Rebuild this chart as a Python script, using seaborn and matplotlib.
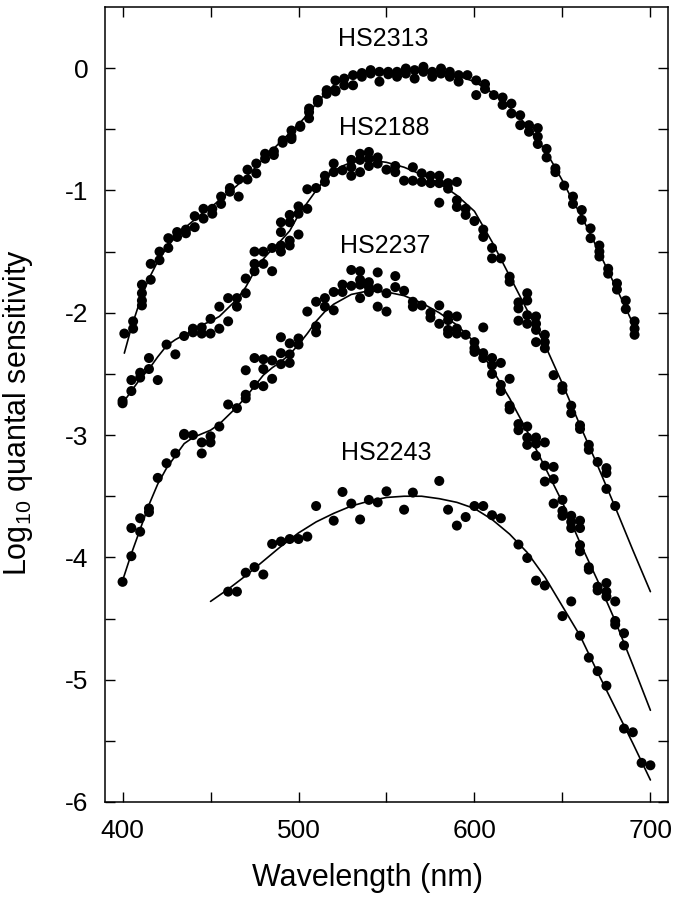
import matplotlib
matplotlib.use('Agg')
import matplotlib.pyplot as plt
import seaborn as sns
import pandas as pd

# Measured points, log10 quantal sensitivity vs wavelength (nm)
hs2313_wl = [401, 406, 406, 411, 411, 411, 411, 416, 416, 421, 421, 426, 426, 431, 431,
             436, 436, 441, 441, 446, 446, 451, 451, 456, 456, 461, 461, 466, 466, 471, 471,
             476, 476, 481, 481, 486, 486, 491, 491, 496, 496, 496, 501, 501, 506, 506, 506,
             511, 511, 516, 516, 521, 521, 521, 526, 526, 531, 531, 536, 536, 541, 541,
             546, 546, 551, 551, 556, 556, 561, 561, 566, 566, 571, 571, 576, 576, 581, 581,
             586, 586, 591, 591, 596, 601, 601, 606, 606, 611, 616, 616, 621, 621, 626, 626,
             631, 631, 636, 636, 636, 641, 641, 646, 646, 651, 656, 656, 661, 661, 666, 666,
             671, 671, 671, 676, 676, 681, 681, 686, 686, 691, 691, 691]
hs2313_val = [-2.17, -2.07, -2.13, -1.77, -1.84, -1.90, -1.94, -1.60, -1.73, -1.50, -1.57,
              -1.39, -1.47, -1.34, -1.38, -1.35, -1.32, -1.21, -1.30, -1.15, -1.23, -1.15, -1.19,
              -1.05, -1.11, -0.98, -1.01, -0.91, -1.05, -0.83, -0.91, -0.78, -0.86, -0.70, -0.74,
              -0.68, -0.71, -0.59, -0.61, -0.56, -0.51, -0.58, -0.47, -0.48, -0.36, -0.41, -0.33,
              -0.26, -0.28, -0.21, -0.18, -0.10, -0.19, -0.18, -0.085, -0.14, -0.057, -0.14,
              -0.07, -0.04, -0.016, -0.044, -0.03, -0.11, -0.03, -0.05, -0.03, -0.07, -0.003,
              -0.044, -0.016, -0.085, 0.011, -0.03, -0.03, -0.07, -0.003, -0.044, -0.03, -0.07,
              -0.057, -0.11, -0.057, -0.10, -0.22, -0.13, -0.17, -0.22, -0.24, -0.30, -0.29,
              -0.37, -0.385, -0.466, -0.466, -0.52, -0.49, -0.56, -0.62, -0.66, -0.73, -0.82,
              -0.85, -0.96, -1.05, -1.11, -1.16, -1.24, -1.31, -1.39, -1.45, -1.50, -1.54,
              -1.64, -1.68, -1.76, -1.81, -1.90, -1.97, -2.07, -2.13, -2.18]

hs2188_wl = [400, 400, 405, 405, 410, 410, 415, 415, 420, 425, 430, 435, 440, 440, 445, 445,
             450, 450, 455, 455, 460, 460, 465, 465, 470, 470, 475, 475, 475, 480, 480, 485, 485,
             490, 490, 490, 490, 495, 495, 495, 495, 500, 500, 500, 505, 505, 510, 515, 515,
             520, 520, 525, 530, 530, 530, 535, 535, 535, 540, 540, 540, 545, 545, 550, 555, 555,
             560, 565, 565, 570, 570, 575, 575, 580, 580, 580, 585, 585, 590, 590, 590, 595, 595,
             600, 605, 605, 610, 610, 615, 620, 620, 625, 625, 625, 630, 630, 630, 630,
             635, 635, 635, 635, 640, 640, 640, 645, 650, 650, 655, 655, 660, 660, 665, 665,
             670, 675, 675, 675, 680]
hs2188_val = [-2.72, -2.74, -2.64, -2.55, -2.53, -2.49, -2.46, -2.37, -2.55, -2.26, -2.34,
              -2.19, -2.13, -2.16, -2.12, -2.17, -2.05, -2.17, -1.95, -2.13, -1.88, -2.07, -1.88,
              -1.95, -1.72, -1.84, -1.50, -1.60, -1.66, -1.50, -1.60, -1.47, -1.66, -1.45, -1.50,
              -1.34, -1.26, -1.45, -1.41, -1.26, -1.20, -1.36, -1.13, -1.19, -1.15, -0.99, -0.98,
              -0.93, -0.88, -0.78, -0.85, -0.835, -0.75, -0.81, -0.88, -0.70, -0.75, -0.85,
              -0.685, -0.74, -0.80, -0.73, -0.78, -0.83, -0.80, -0.85, -0.92, -0.81, -0.92,
              -0.86, -0.93, -0.88, -0.94, -0.88, -0.94, -1.10, -0.94, -0.985, -0.93, -1.08,
              -1.135, -1.15, -1.20, -1.25, -1.32, -1.38, -1.47, -1.555, -1.555, -1.705, -1.746,
              -1.915, -1.964, -2.065, -1.84, -1.90, -2.02, -2.09, -2.03, -2.09, -2.14, -2.24,
              -2.18, -2.24, -2.29, -2.51, -2.60, -2.63, -2.76, -2.82, -2.92, -2.95, -3.08, -3.12,
              -3.22, -3.27, -3.31, -3.44, -3.58]

hs2237_wl = [400, 405, 405, 410, 410, 415, 415, 420, 425, 430, 435, 435, 440, 445, 445, 450,
             450, 455, 460, 465, 470, 470, 470, 475, 475, 480, 480, 480, 485, 485, 490, 490, 490,
             495, 495, 495, 500, 500, 505, 510, 510, 510, 515, 515, 520, 520, 525, 525, 530, 530,
             535, 535, 535, 535, 540, 540, 540, 545, 545, 545, 550, 550, 555, 555, 560, 565, 565,
             570, 575, 575, 580, 580, 585, 585, 585, 585, 590, 590, 590, 595, 600, 600, 600,
             605, 605, 605, 610, 610, 610, 615, 615, 615, 620, 620, 620, 625, 625, 630, 630, 630,
             635, 635, 635, 640, 640, 640, 645, 645, 645, 650, 650, 650, 655, 655, 655,
             660, 660, 660, 660, 665, 665, 670, 670, 675, 675, 675, 680, 680, 680, 685, 685]
hs2237_val = [-4.20, -3.99, -3.76, -3.79, -3.68, -3.60, -3.63, -3.35, -3.23, -3.15, -2.99,
              -3.00, -3.00, -3.06, -3.15, -3.01, -3.06, -2.93, -2.75, -2.78, -2.47, -2.67, -2.70,
              -2.37, -2.59, -2.38, -2.46, -2.60, -2.39, -2.54, -2.20, -2.33, -2.42, -2.25, -2.34,
              -2.41, -2.21, -2.26, -1.99, -1.91, -2.11, -2.16, -1.88, -1.95, -1.83, -1.98, -1.77,
              -1.83, -1.78, -1.65, -1.66, -1.73, -1.77, -1.88, -1.75, -1.79, -1.83, -1.67, -1.80,
              -1.95, -1.84, -1.99, -1.70, -1.79, -1.82, -1.91, -1.95, -1.94, -2.00, -2.04, -1.94,
              -2.09, -2.02, -2.06, -2.14, -2.17, -2.03, -2.13, -2.17, -2.18, -2.24, -2.29, -2.32,
              -2.12, -2.33, -2.37, -2.37, -2.43, -2.50, -2.41, -2.59, -2.64, -2.54, -2.76, -2.79,
              -2.91, -2.96, -2.93, -3.02, -3.08, -3.02, -3.07, -3.17, -3.06, -3.25, -3.38, -3.26,
              -3.36, -3.56, -3.53, -3.62, -3.66, -3.66, -3.71, -3.76, -3.70, -3.76, -3.90, -3.95,
              -4.08, -4.10, -4.24, -4.27, -4.21, -4.28, -4.32, -4.36, -4.52, -4.55, -4.62, -4.72]

hs2243_wl = [460, 465, 470, 475, 480, 485, 490, 495, 500, 505, 510, 520, 525, 530, 535, 540,
             545, 550, 560, 565, 580, 585, 590, 595, 600, 605, 610, 615, 625, 630, 635, 640,
             650, 655, 660, 665, 670, 675, 685, 690, 695, 700]
hs2243_val = [-4.28, -4.28, -4.125, -4.08, -4.14, -3.89, -3.87, -3.85, -3.85, -3.83, -3.58,
              -3.70, -3.465, -3.56, -3.69, -3.53, -3.55, -3.46, -3.61, -3.47, -3.375, -3.61,
              -3.74, -3.67, -3.58, -3.58, -3.655, -3.68, -3.895, -4.005, -4.19, -4.23, -4.48,
              -4.36, -4.64, -4.82, -4.93, -5.05, -5.40, -5.43, -5.68, -5.70]

# Fitted curves
fit2313_wl = [401, 405, 410, 415, 420, 425, 430, 435, 440, 445, 450, 455, 460, 465, 470, 475,
              480, 485, 490, 495, 500, 505, 510, 515, 520, 525, 530, 540, 550, 560, 570, 580,
              590, 600, 610, 620, 630, 640, 645, 650, 655, 660, 665, 670, 675, 680, 685, 692]
fit2313_val = [-2.33, -2.12, -1.90, -1.72, -1.58, -1.47, -1.38, -1.31, -1.25, -1.19, -1.14,
               -1.08, -1.02, -0.96, -0.89, -0.82, -0.74, -0.67, -0.60, -0.53, -0.46, -0.38,
               -0.29, -0.21, -0.14, -0.10, -0.07, -0.04, -0.03, -0.02, -0.02, -0.03, -0.06,
               -0.11, -0.20, -0.32, -0.47, -0.67, -0.79, -0.92, -1.06, -1.19, -1.33, -1.48,
               -1.63, -1.78, -1.93, -2.15]

fit2188_wl = [400, 405, 410, 415, 420, 425, 430, 435, 440, 445, 450, 455, 460, 465, 470, 475,
              480, 485, 490, 495, 500, 505, 510, 515, 520, 525, 530, 540, 550, 560, 570, 580,
              590, 600, 610, 620, 630, 640, 650, 660, 670, 680, 690, 700]
fit2188_val = [-2.74, -2.64, -2.54, -2.46, -2.36, -2.27, -2.22, -2.18, -2.15, -2.10, -2.07,
               -2.03, -1.96, -1.89, -1.79, -1.66, -1.56, -1.48, -1.41, -1.33, -1.20, -1.10,
               -1.00, -0.91, -0.84, -0.80, -0.77, -0.75, -0.77, -0.81, -0.87, -0.94, -1.04,
               -1.17, -1.42, -1.70, -1.98, -2.26, -2.58, -2.92, -3.25, -3.59, -3.94, -4.28]

fit2237_wl = [400, 405, 410, 415, 420, 425, 430, 435, 440, 445, 450, 455, 460, 465, 470, 475,
              480, 485, 490, 495, 500, 505, 510, 515, 520, 530, 540, 550, 560, 570, 580, 590,
              600, 610, 620, 630, 640, 650, 660, 670, 680, 690, 700]
fit2237_val = [-4.19, -3.97, -3.77, -3.57, -3.40, -3.27, -3.17, -3.07, -3.02, -2.99, -2.96,
               -2.91, -2.84, -2.77, -2.69, -2.60, -2.51, -2.45, -2.40, -2.34, -2.26, -2.17,
               -2.07, -1.99, -1.93, -1.85, -1.82, -1.83, -1.86, -1.92, -2.00, -2.10, -2.24,
               -2.46, -2.70, -2.97, -3.26, -3.55, -3.88, -4.19, -4.52, -4.88, -5.25]

fit2243_wl = [450, 460, 470, 480, 490, 500, 510, 520, 530, 540, 550, 560, 570, 580, 590, 600,
              610, 620, 630, 640, 650, 660, 670, 680, 690, 700]
fit2243_val = [-4.36, -4.26, -4.15, -4.03, -3.91, -3.80, -3.71, -3.64, -3.58, -3.54, -3.51,
               -3.50, -3.50, -3.52, -3.55, -3.60, -3.69, -3.81, -3.96, -4.16, -4.40, -4.64,
               -4.94, -5.23, -5.52, -5.82]

labels = ['HS2313', 'HS2188', 'HS2237', 'HS2243']
label_x = [548, 549, 549, 550]
label_y = [0.24, -0.49, -1.45, -3.15]

sns.set_style('ticks')
plt.rcParams['font.family'] = ['Liberation Sans', 'DejaVu Sans']
plt.rcParams['mathtext.fontset'] = 'custom'
plt.rcParams['mathtext.rm'] = 'Liberation Sans'
plt.rcParams['mathtext.default'] = 'regular'
plt.rcParams['text.color'] = 'black'
plt.rcParams['axes.labelcolor'] = 'black'

fig = plt.figure(figsize=(6.79, 8.99), dpi=100)
ax = fig.add_axes([0.1546, 0.1079, 0.8292, 0.8843])

points = [(hs2313_wl, hs2313_val), (hs2188_wl, hs2188_val),
          (hs2237_wl, hs2237_val), (hs2243_wl, hs2243_val)]
fits = [(fit2313_wl, fit2313_val), (fit2188_wl, fit2188_val),
        (fit2237_wl, fit2237_val), (fit2243_wl, fit2243_val)]

for (fx, fy), (px, py) in zip(fits, points):
    fit_df = pd.DataFrame({'wl': fx, 'val': fy})
    sns.lineplot(data=fit_df, x='wl', y='val', color='black', lw=1.2,
                 estimator=None, sort=False, ax=ax)
    pts_df = pd.DataFrame({'wl': px, 'val': py})
    sns.scatterplot(data=pts_df, x='wl', y='val', color='black', s=52,
                    edgecolor='none', ax=ax, zorder=3)

for name, tx, ty in zip(labels, label_x, label_y):
    ax.text(tx, ty, name, ha='center', va='center', fontsize=18, color='black')

ax.set_xlim(390, 710)
ax.set_ylim(-6, 0.5)

xt = [400, 450, 500, 550, 600, 650, 700]
ax.set_xticks(xt)
ax.set_xticklabels([str(v) if v % 100 == 0 else '' for v in xt])
yt = [-6, -5.5, -5, -4.5, -4, -3.5, -3, -2.5, -2, -1.5, -1, -0.5, 0]
ax.set_yticks(yt)
ax.set_yticklabels([str(int(v)) if v == int(v) else '' for v in yt])
ax.tick_params(direction='in', length=7, width=1, top=True, right=True,
               labelsize=19, pad=12, colors='black')

for sp in ax.spines.values():
    sp.set_linewidth(1.1)
    sp.set_color('black')

ax.set_xlabel('Wavelength (nm)', fontsize=22, color='black')
ax.set_ylabel(r'Log$_{10}$ quantal sensitivity', fontsize=22, color='black')
ax.xaxis.set_label_coords(0.467, -0.077)
ax.yaxis.set_label_coords(-0.124, 0.49)

fig.savefig('out.png', dpi=100)
